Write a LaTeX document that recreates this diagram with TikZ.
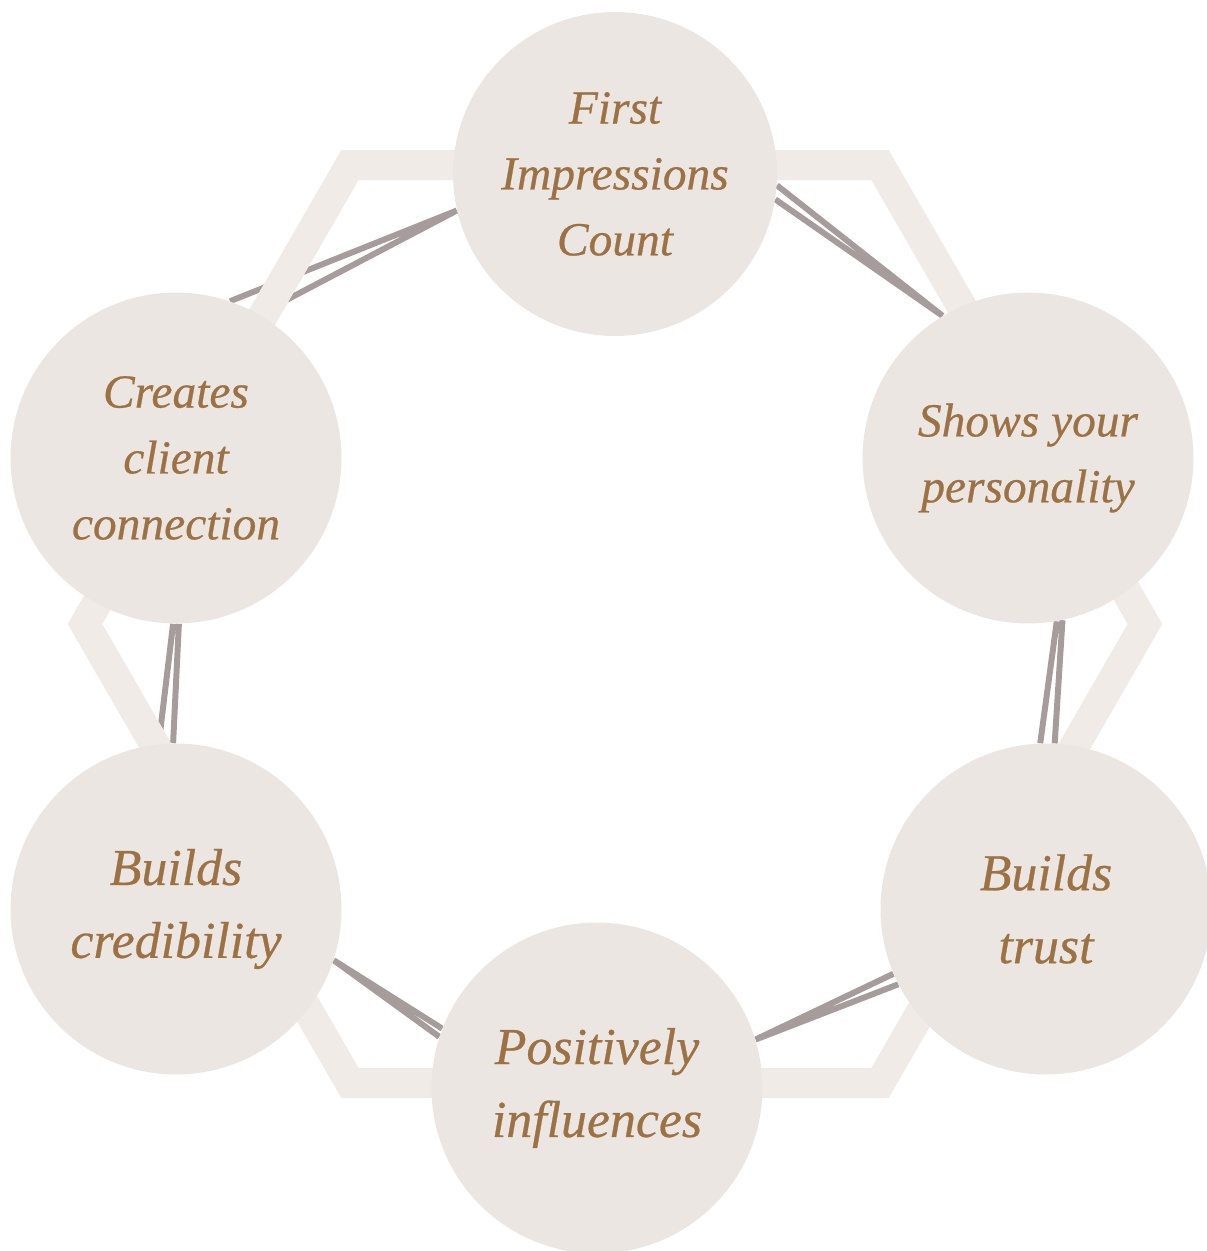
\documentclass[tikz,border=0pt]{standalone}
\usepackage{fontspec}
\setmainfont{Liberation Serif}[ItalicFeatures={FakeBold=0.5}]
\usepackage{xcolor}
\usetikzlibrary{calc, positioning, backgrounds}

\definecolor{bubblefill}{HTML}{ECE6E2}
\definecolor{bandfill}{HTML}{F0EBE7}
\definecolor{linkgrey}{HTML}{A69C9C}
\definecolor{textbrown}{HTML}{9C7245}

\begin{document}
\begin{tikzpicture}[x=0.02cm, y=-0.02cm,
    bubble/.style={circle, fill=bubblefill, minimum size=6.62cm, inner sep=0pt,
        align=center, text=textbrown, font=\fontsize{27}{37.5}\selectfont\itshape},
    bigtext/.style={font=\fontsize{29.5}{41.5}\selectfont\itshape},
    link/.style={draw=linkgrey, line width=3.4pt},
    band/.style={draw=bandfill, line width=0.6cm, line join=miter}]
                    \useasboundingbox (0, 0) rectangle (1207, 1251);

                    \node[bubble, minimum size=6.48cm] (first) at (615, 174) {First\\Impressions\\Count};
                    \node[bubble] (shows) at (1028, 458) {Shows your\\personality};
                    \node[bubble, bigtext] (trust) at (1046, 909) {Builds\\trust};
                    \node[bubble, bigtext] (positive) at (597, 1088) {Positively\\influences};
                    \node[bubble, bigtext] (credible) at (176, 909) {Builds\\credibility};
                    \node[bubble] (client) at (176, 458) {Creates\\client\\connection};

                    \begin{scope}[on background layer]
                    \draw[link]
                    (first.-4) -- (shows.121)
                    (first.-9) -- (shows.121)
                    (shows.-78) -- (trust.87)
                    (shows.-80) -- (trust.92)
                    (trust.203) -- (positive.17)
                    (trust.207) -- (positive.17)
                    (positive.159) -- (credible.-18)
                    (positive.162) -- (credible.-18)
                    (credible.91) -- (client.-89)
                    (credible.96) -- (client.-91)
                    (client.60) -- (first.-167)
                    (client.71) -- (first.-167);
                    \draw[band] (615, 624) +(0:530)
                    \foreach \a in {60, 120, ..., 300} { -- +(\a:530) } -- cycle;
                    \end{scope}
                \end{tikzpicture}
\end{document}
